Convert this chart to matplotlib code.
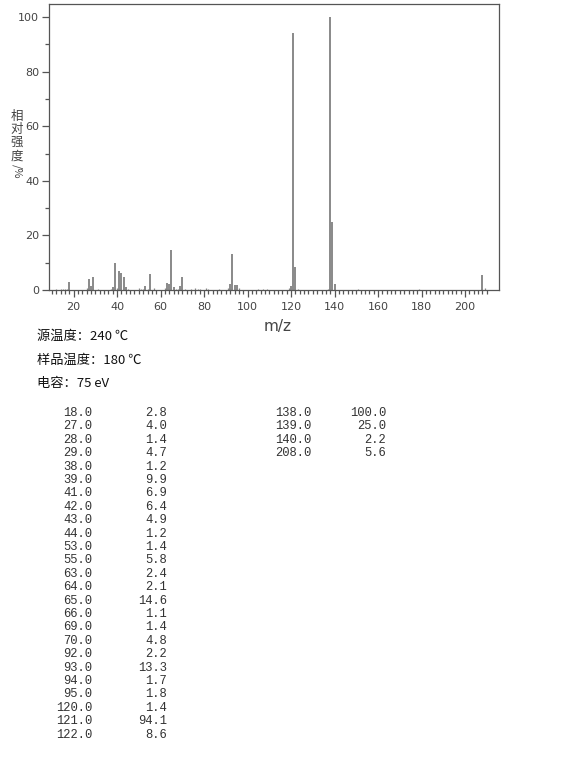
#!/usr/bin/env python
import numpy as np
import matplotlib
matplotlib.use("Agg")
import matplotlib.pyplot as plt

# listed peaks (m/z, relative intensity %)
mz = [18, 27, 28, 29, 38, 39, 41, 42, 43, 44, 53, 55, 63, 64, 65, 66, 69, 70,
      92, 93, 94, 95, 120, 121, 122, 138, 139, 140, 208]
inten = [2.8, 4.0, 1.4, 4.7, 1.2, 9.9, 6.9, 6.4, 4.9, 1.2, 1.4, 5.8, 2.4, 2.1,
         14.6, 1.1, 1.4, 4.8, 2.2, 13.3, 1.7, 1.8, 1.4, 94.1, 8.6, 100.0, 25.0,
         2.2, 5.6]

# small unlisted peaks seen along the baseline (estimated)
mz_small = [12, 14, 15, 16, 17, 26, 31, 37, 40, 45, 50, 51, 52, 54, 57, 62,
            67, 68, 71, 74, 76, 77, 78, 81, 82, 87, 91, 96, 105, 107, 109,
            119, 123, 137, 151, 179, 209]
inten_small = [0.4, 0.3, 0.5, 0.4, 0.5, 0.6, 0.4, 0.5, 0.8, 0.4, 0.6, 0.5,
               0.5, 0.4, 0.6, 0.7, 0.5, 0.4, 0.5, 0.4, 0.6, 0.5, 0.4, 0.6,
               0.4, 0.3, 0.6, 0.7, 0.4, 0.5, 0.4, 0.8, 0.5, 0.5, 0.4, 0.3, 0.6]

info = ["源温度：240 ℃", "样品温度：180 ℃", "电容：75 eV"]

W, H = 570, 760
fig = plt.figure(figsize=(W / 100, H / 100), dpi=100)

def fx(x):
    return x / W

def fy(y):
    return 1 - y / H

ax = fig.add_axes([fx(49), fy(290), fx(499) - fx(49), fy(4) - fy(290)])
ax.vlines(mz_small, 0, inten_small, color="#8a8a8a", lw=0.9)
ax.vlines(mz, 0, inten, color="#6a6a6a", lw=1.1)
ax.set_xlim(8.7, 215.6)
ax.set_ylim(0, 104.8)

for s in ax.spines.values():
    s.set_color("#555555")
    s.set_linewidth(0.9)

ax.set_xticks([20, 40, 60, 80, 100, 120, 140, 160, 180, 200])
ax.set_xticks(np.arange(10, 212, 2), minor=True)
ax.set_yticks([0, 20, 40, 60, 80, 100])
ax.set_yticks([10, 30, 50, 70, 90], minor=True)
ax.tick_params(axis="both", which="major", length=5, width=0.9,
               color="#555555", labelcolor="#444444", labelsize=8, direction="out")
ax.tick_params(axis="both", which="minor", length=3, width=0.9,
               color="#555555", direction="out")
ax.tick_params(axis="x", pad=4)
ax.tick_params(axis="y", pad=2)

# y label: stacked characters
cjk = ["Noto Sans CJK SC", "DejaVu Sans"]
for i, ch in enumerate("相对强度"):
    fig.text(fx(17), fy(116 + i * 13.3), ch, family=cjk, fontsize=9,
             color="#444444", ha="center", va="center")
fig.text(fx(17), fy(171), "/%", family=cjk, fontsize=8, color="#444444",
         ha="center", va="center", rotation=270)

fig.text(fx(278), fy(326), "m/z", fontsize=11, color="#444444",
         ha="center", va="center")

for i, line in enumerate(info):
    fig.text(fx(37), fy(336 + i * 24), line, family=cjk, fontsize=9.5,
             color="#111111", ha="left", va="center")

# peak table
mono = "Liberation Mono"
split = 25
for i, (m, v) in enumerate(zip(mz, inten)):
    if i < split:
        x1, x2, row = 92, 167, i
    else:
        x1, x2, row = 311, 386, i - split
    y = fy(413 + row * 13.4)
    fig.text(fx(x1), y, f"{m:.1f}", family=mono, fontsize=8.7, color="#333333",
             ha="right", va="center")
    fig.text(fx(x2), y, f"{v:.1f}", family=mono, fontsize=8.7, color="#333333",
             ha="right", va="center")

fig.savefig("out.png", dpi=100)
